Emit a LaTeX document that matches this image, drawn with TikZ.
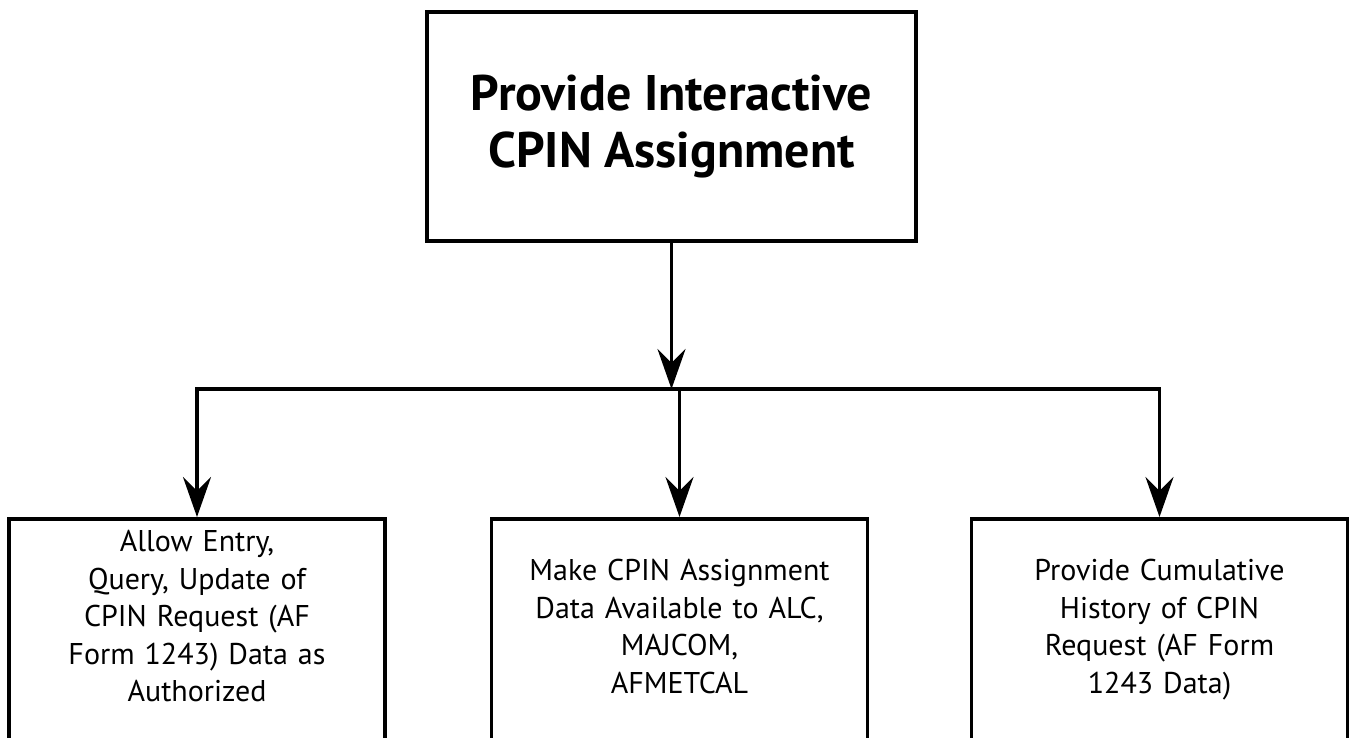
\documentclass[tikz,border=0pt]{standalone}
\usepackage{fontspec}
\setmainfont{PT Sans}
\usetikzlibrary{arrows.meta}

\begin{document}
\begin{tikzpicture}[x=1pt,y=1pt,
	box/.style={shape=rectangle,draw=black,line width=3.5pt},
	subbox/.style={box,anchor=north,text width=360pt,inner xsep=8pt,inner ysep=0pt,align=center,
		font=\fontsize{30}{37.5}\selectfont,text depth=260pt},
	arr/.style={-{Stealth[length=40pt,width=28pt,inset=14pt]},line width=3.5pt}]
	
	\useasboundingbox (0,0) rectangle (1349,-738);
	\clip (0,0) rectangle (1349,-738);
	
	\node[box,minimum width=489pt,minimum height=229pt,align=center,
		font=\fontsize{50}{57}\selectfont\bfseries] (main) at (671.5,-126.5) {Provide Interactive\\CPIN Assignment};
	
	\node[subbox,text height=33pt] (entry) at (197,-517)    {Allow Entry,\\Query, Update of\\CPIN Request (AF\\Form 1243) Data as\\Authorized};
	\node[subbox,text height=62pt] (avail) at (679.5,-517)  {Make CPIN Assignment\\Data Available to ALC,\\MAJCOM,\\AFMETCAL};
	\node[subbox,text height=62pt] (hist)  at (1159.5,-517) {Provide Cumulative\\History of CPIN\\Request (AF Form\\1243 Data)};
	
	\coordinate (bus) at (671.5,-389);
	
	\draw[arr] (main.south) -- (main.south |- bus);
	\draw[arr] (bus) -| (entry.north);
	\draw[arr] (bus) -| (hist.north);
	\draw[arr] (avail.north |- bus) -- (avail.north);
	
\end{tikzpicture}
\end{document}
